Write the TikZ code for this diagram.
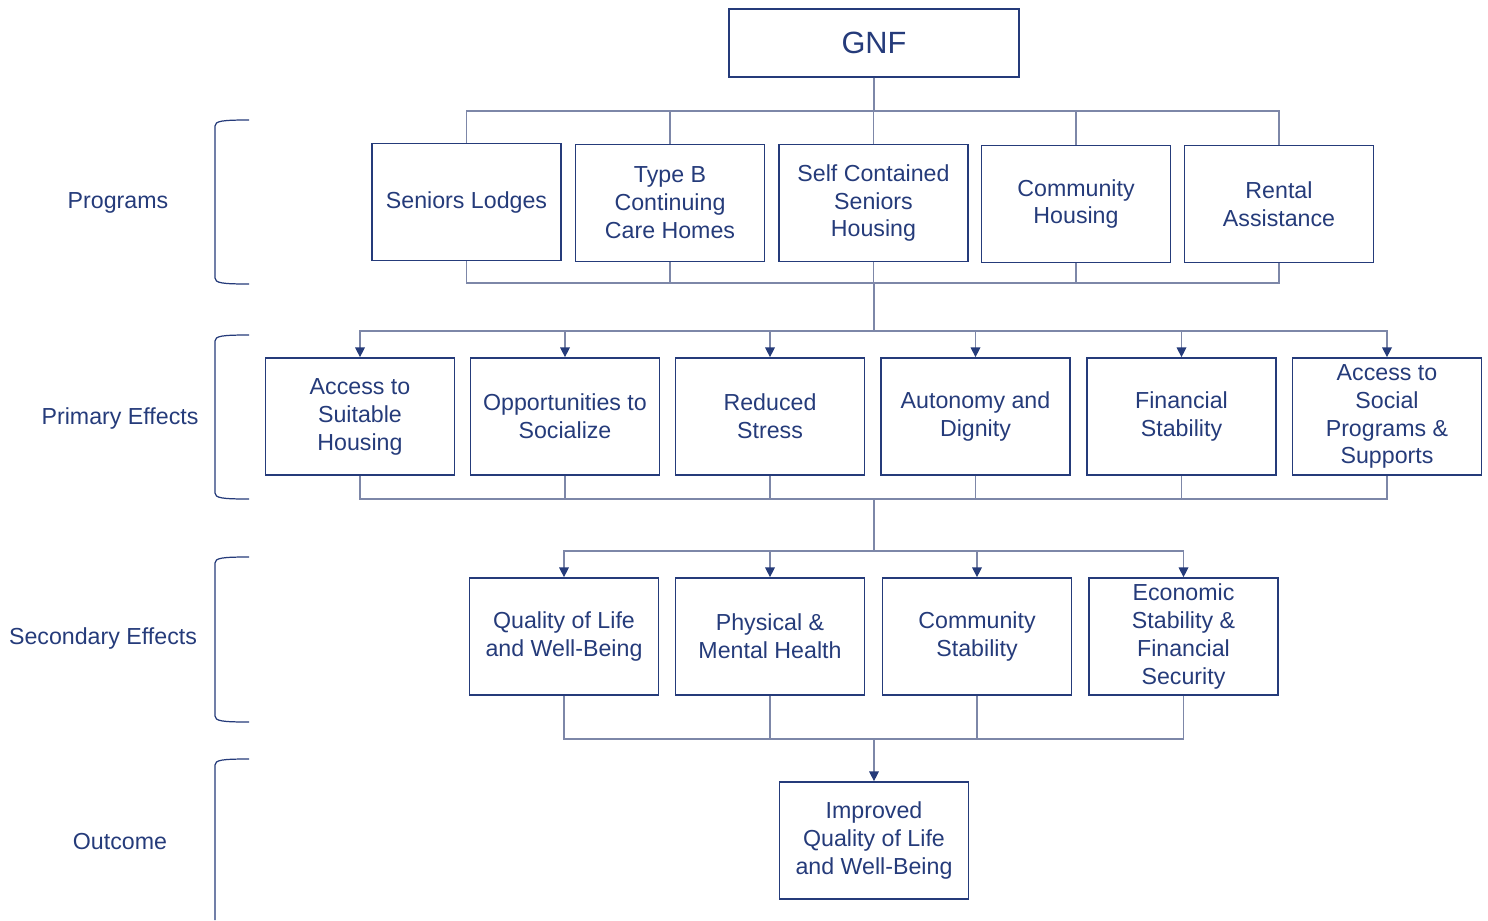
\documentclass[tikz,border=0pt]{standalone}
\usepackage{fontspec}
\setmainfont{Liberation Sans}
\usetikzlibrary{arrows.meta}
\definecolor{navy}{RGB}{37,59,122}
\definecolor{linkgray}{RGB}{125,135,168}
\tikzset{
  box/.style={draw=navy, line width=1pt, text=navy, align=center,
    minimum width=3.78cm, minimum height=2.34cm, inner sep=2pt,
    font=\fontsize{13.2}{15.9}\selectfont},
  tier/.style={text=navy, font=\fontsize{13.2}{15.9}\selectfont},
  link/.style={draw=linkgray, line width=0.7pt},
  arr/.style={link, -{Triangle[length=5.5pt,width=5.5pt,color=navy]}},
  brace/.style={draw=navy, line width=0.7pt}
}
\begin{document}
\begin{tikzpicture}[x=0.02cm, y=-0.02cm]
\useasboundingbox (0,0) rectangle (1488,920);
% top
\node[box, minimum width=5.8cm, minimum height=1.36cm, font=\fontsize{17.5}{20}\selectfont] (gnf) at (874,43) {GNF};
% programs
\node[box] (lodge) at (466.5,202) {Seniors Lodges};
\node[box] (typeb) at (670,203) {Type B\\Continuing\\Care Homes};
\node[box] (selfc) at (873.5,203) {Self Contained\\Seniors\\Housing};
\node[box] (commh) at (1076,204) {Community\\Housing};
\node[box] (rental) at (1279,204) {Rental\\Assistance};
% primary effects
\node[box] (suitable) at (360,416.5) {Access to\\Suitable\\Housing};
\node[box] (social) at (565,416.5) {Opportunities to\\Socialize};
\node[box] (stress) at (770,416.5) {Reduced\\Stress};
\node[box] (autonomy) at (975.5,416.5) {Autonomy and\\Dignity};
\node[box] (finance) at (1181.5,416.5) {Financial\\Stability};
\node[box] (supports) at (1387,416.5) {Access to\\Social\\Programs \&\\Supports};
% secondary effects
\node[box] (qol) at (564,636.5) {Quality of Life\\and Well-Being};
\node[box] (health) at (770,636.5) {Physical \&\\Mental Health};
\node[box] (stability) at (977,636.5) {Community\\Stability};
\node[box] (economic) at (1183.5,636.5) {Economic\\Stability \&\\Financial\\Security};
% outcome
\node[box] (improved) at (874,840.5) {Improved\\Quality of Life\\and Well-Being};
% tiers
\node[tier] (programs) at (118,203) {Programs};
\node[tier] (primary) at (120,418) {Primary Effects};
\node[tier] (secondary) at (103,638) {Secondary Effects};
\node[tier] (outcome) at (120,842) {Outcome};
\draw[brace] (249,120) .. controls (222,120) and (215,121) .. (215,126) -- (215,278) .. controls (215,283) and (222,284) .. (249,284);
\draw[brace] (249,335) .. controls (222,335) and (215,336) .. (215,341) -- (215,493) .. controls (215,498) and (222,499) .. (249,499);
\draw[brace] (249,557) .. controls (222,557) and (215,558) .. (215,563) -- (215,716) .. controls (215,721) and (222,722) .. (249,722);
\draw[brace] (249,759) .. controls (222,759) and (215,760) .. (215,765) -- (215,920);
% connectors
\coordinate (topbus) at (874,111);
\coordinate (progjoin) at (874,283);
\coordinate (effbus) at (874,331);
\coordinate (effjoin) at (874,499);
\coordinate (secbus) at (874,551);
\coordinate (secjoin) at (874,739);
\foreach \p in {lodge,typeb,selfc,commh,rental}
  \draw[link] (gnf.south) -- (topbus) -| (\p.north);
\foreach \p in {lodge,typeb,selfc,commh,rental}
  \draw[link] (\p.south) |- (progjoin);
\foreach \e in {suitable,social,stress,autonomy,finance,supports}
  \draw[arr] (progjoin) -- (effbus) -| (\e.north);
\foreach \e in {suitable,social,stress,autonomy,finance,supports}
  \draw[link] (\e.south) |- (effjoin);
\foreach \s in {qol,health,stability,economic}
  \draw[arr] (effjoin) -- (secbus) -| (\s.north);
\foreach \s in {qol,health,stability,economic}
  \draw[link] (\s.south) |- (secjoin);
\draw[arr] (secjoin) -- (improved.north);
\end{tikzpicture}
\end{document}
